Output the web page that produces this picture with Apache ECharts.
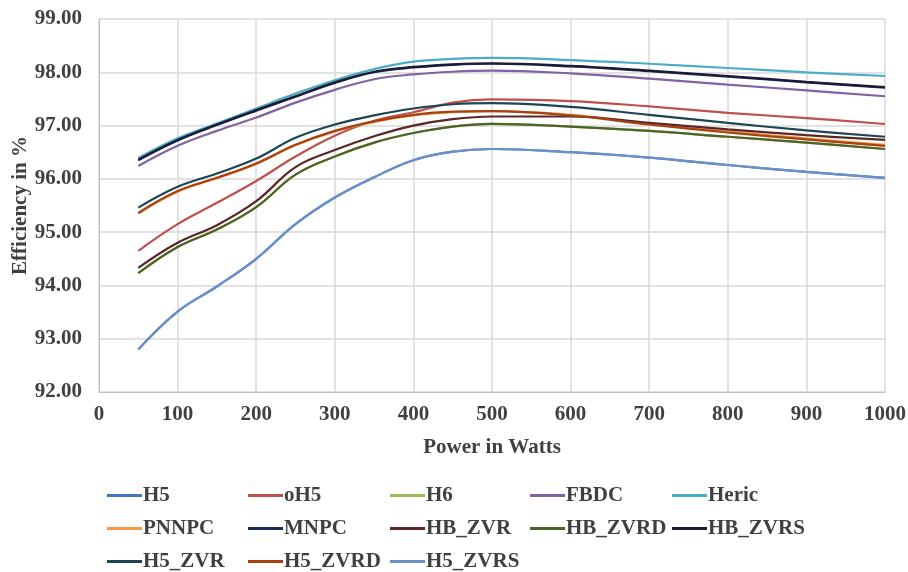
<!DOCTYPE html>
<html>
<head>
<meta charset="utf-8">
<script src="https://cdn.jsdelivr.net/npm/echarts@6/dist/echarts.min.js"></script>
<style>
  html, body { margin: 0; padding: 0; background: #fff; }
  #chart { width: 908px; height: 572px; }
</style>
</head>
<body>
<div id="chart"></div>
<script>
// power levels (W)
const powers = [50, 100, 150, 200, 250, 300, 350, 400, 450, 500, 600, 700, 800, 900, 1000];

// efficiency in %
const h5 = [92.80, 93.51, 93.98, 94.50, 95.15, 95.65, 96.03, 96.35, 96.51, 96.56, 96.50, 96.40, 96.26, 96.13, 96.02];
const oh5 = [94.65, 95.15, 95.55, 95.96, 96.42, 96.81, 97.09, 97.25, 97.43, 97.49, 97.46, 97.36, 97.24, 97.14, 97.03];
const h6 = [94.23, 94.72, 95.05, 95.47, 96.08, 96.42, 96.68, 96.86, 96.98, 97.03, 96.98, 96.90, 96.79, 96.68, 96.56];
const fbdc = [96.24, 96.62, 96.90, 97.15, 97.43, 97.67, 97.87, 97.96, 98.01, 98.03, 97.98, 97.88, 97.77, 97.66, 97.55];
const heric = [96.39, 96.76, 97.04, 97.32, 97.60, 97.85, 98.06, 98.20, 98.25, 98.27, 98.23, 98.16, 98.08, 98.00, 97.93];
const pnnpc = [95.35, 95.76, 96.01, 96.28, 96.63, 96.89, 97.07, 97.19, 97.25, 97.27, 97.20, 97.03, 96.89, 96.76, 96.64];
const mnpc = [96.35, 96.72, 97.01, 97.28, 97.54, 97.80, 98.00, 98.09, 98.14, 98.16, 98.11, 98.02, 97.92, 97.81, 97.71];
const hbZvr = [94.33, 94.80, 95.13, 95.58, 96.22, 96.54, 96.80, 97.00, 97.12, 97.17, 97.17, 97.05, 96.93, 96.82, 96.73];
const hbZvrd = [94.23, 94.72, 95.05, 95.47, 96.08, 96.42, 96.68, 96.86, 96.98, 97.03, 96.98, 96.90, 96.79, 96.68, 96.56];
const hbZvrs = [96.36, 96.73, 97.02, 97.29, 97.55, 97.81, 98.01, 98.10, 98.15, 98.17, 98.12, 98.03, 97.93, 97.82, 97.72];
const h5Zvr = [95.46, 95.85, 96.10, 96.38, 96.77, 97.02, 97.19, 97.32, 97.40, 97.42, 97.35, 97.20, 97.05, 96.91, 96.79];
const h5Zvrd = [95.36, 95.77, 96.02, 96.29, 96.64, 96.90, 97.08, 97.20, 97.26, 97.27, 97.19, 97.02, 96.87, 96.74, 96.62];
const h5Zvrs = [92.80, 93.51, 93.98, 94.50, 95.15, 95.65, 96.03, 96.35, 96.51, 96.56, 96.50, 96.40, 96.26, 96.13, 96.02];

const seriesNames = ['H5', 'oH5', 'H6', 'FBDC', 'Heric', 'PNNPC', 'MNPC', 'HB_ZVR', 'HB_ZVRD', 'HB_ZVRS', 'H5_ZVR', 'H5_ZVRD', 'H5_ZVRS'];
const seriesValues = [h5, oh5, h6, fbdc, heric, pnnpc, mnpc, hbZvr, hbZvrd, hbZvrs, h5Zvr, h5Zvrd, h5Zvrs];
const seriesColors = ['#4472c4', '#c0504d', '#9bbb59', '#8064a2', '#4bacc6', '#f79646', '#1f2a5c', '#5a2626', '#4f6228', '#1c1b33', '#1d4553', '#a5420f', '#6a90c8'];

const FONT = '"Liberation Serif", "Times New Roman", serif';
const TXT = '#404040';

const chart = echarts.init(document.getElementById('chart'));

// legend columns
const legendCols = [
    ['H5', 'PNNPC', 'H5_ZVR'],
    ['oH5', 'MNPC', 'H5_ZVRD'],
    ['H6', 'HB_ZVR', 'H5_ZVRS'],
    ['FBDC', 'HB_ZVRD'],
    ['Heric', 'HB_ZVRS']
];
const legendLeft = [107, 248, 390, 530, 672];

const legends = legendCols.map((col, i) => ({
    data: col,
    orient: 'vertical',
    left: legendLeft[i],
    top: 485,
    padding: 0,
    icon: 'rect',
    itemWidth: 35,
    itemHeight: 3,
    itemGap: 12,
    textStyle: { fontFamily: FONT, fontWeight: 'bold', fontSize: 21, lineHeight: 21, color: TXT, padding: [0, 0, 0, -4] }
}));

const option = {
    backgroundColor: '#fff',
    animation: false,
    grid: { left: 99, right: 23, top: 19, bottom: 180, outerBoundsMode: 'none' },
    legend: legends,
    xAxis: {
        type: 'value',
        min: 0,
        max: 1000,
        interval: 100,
        name: 'Power in Watts',
        nameLocation: 'middle',
        nameGap: 45,
        nameMoveOverlap: false,
        nameTextStyle: { fontFamily: FONT, fontWeight: 'bold', fontSize: 21, color: TXT },
        axisLine: { lineStyle: { color: '#bfbfbf', width: 1 } },
        axisTick: { show: false },
        axisLabel: { fontFamily: FONT, fontWeight: 'bold', fontSize: 21, color: TXT, margin: 12, formatter: v => String(v) },
        splitLine: { show: true, lineStyle: { color: '#d9d9d9', width: 1.5 } }
    },
    yAxis: {
        type: 'value',
        min: 92,
        max: 99,
        interval: 1,
        name: 'Efficiency in %',
        nameLocation: 'middle',
        nameGap: 68,
        nameMoveOverlap: false,
        nameTextStyle: { fontFamily: FONT, fontWeight: 'bold', fontSize: 21, color: TXT },
        axisLine: { show: true, lineStyle: { color: '#bfbfbf', width: 1 } },
        axisTick: { show: false },
        axisLabel: {
            fontFamily: FONT, fontWeight: 'bold', fontSize: 21, color: TXT, margin: 17,
            formatter: v => v.toFixed(2)
        },
        splitLine: { show: true, lineStyle: { color: '#d9d9d9', width: 1.5 } }
    },
    series: seriesNames.map((name, i) => ({
        name: name,
        type: 'line',
        smooth: 0.4,
        symbol: 'none',
        color: seriesColors[i],
        lineStyle: { width: 2.2, color: seriesColors[i] },
        data: powers.map((p, j) => [p, seriesValues[i][j]])
    }))
};

chart.setOption(option);

window.addEventListener('resize', function () {
    chart.resize();
});
</script>
</body>
</html>
